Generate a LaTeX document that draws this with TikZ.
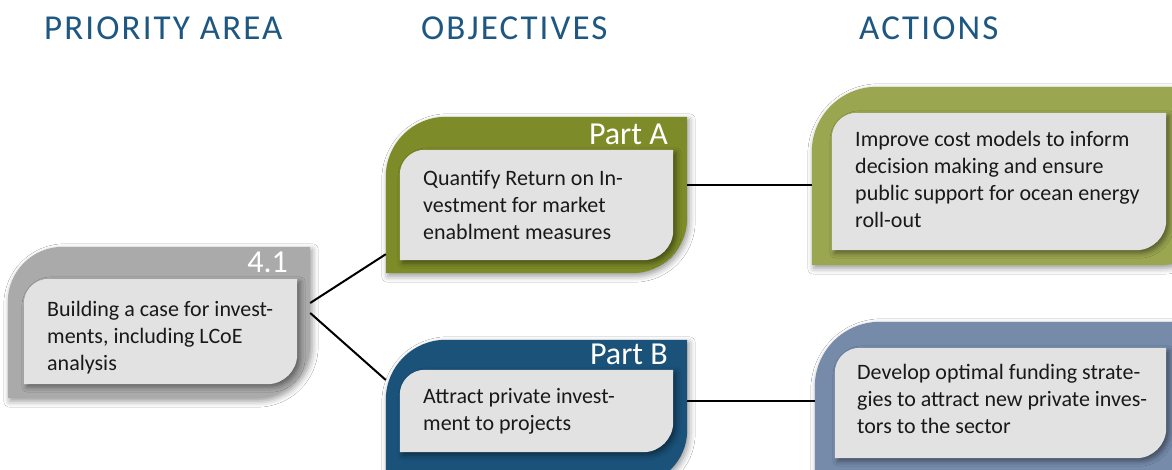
\documentclass[tikz,border=0pt]{standalone}
\usepackage{fontspec}
\setmainfont{Carlito}
\newfontfamily\headfont[LetterSpace=6]{Carlito}
\usetikzlibrary{shadows.blur,calc}
\definecolor{headblue}{RGB}{30,88,130}
\definecolor{textgray}{RGB}{25,25,25}
\definecolor{innergray}{RGB}{226,226,226}
\definecolor{prioritygray}{RGB}{170,170,170}
\definecolor{objagreen}{RGB}{125,140,40}
\definecolor{actagreen}{RGB}{155,166,80}
\definecolor{objbblue}{RGB}{26,82,122}
\definecolor{actbblue}{RGB}{118,138,170}
\tikzset{
  frame/.style={rectangle, inner sep=0pt, draw=none},
  body/.style={font=\fontsize{22}{27}\selectfont, text=textgray, align=left, inner sep=0pt, anchor=north west},
  lab/.style={font=\fontsize{32}{38}\selectfont, text=white, inner sep=0pt, anchor=base east},
  head/.style={font=\headfont\fontsize{35}{40}\selectfont, text=headblue, inner sep=0pt, anchor=base west},
  conn/.style={draw=black, line width=2pt},
  oshadow/.style={blur shadow={shadow xshift=2pt, shadow yshift=-3pt, shadow blur radius=6pt, shadow opacity=40}},
  ishadow/.style={blur shadow={shadow xshift=3pt, shadow yshift=-3pt, shadow blur radius=5pt, shadow opacity=45}},
}
\newcommand\rdfill[5]{%
  \fill[#4,#5] (#1.south west) -- ([yshift=-#2]#1.north west)
    arc[start angle=180,end angle=90,radius=#2] -- (#1.north east)
    -- ([yshift=#3]#1.south east) arc[start angle=0,end angle=-90,radius=#3] -- cycle;}
\begin{document}
\begin{tikzpicture}[x=1pt,y=1pt]
\path[use as bounding box, clip] (0,0) rectangle (1172,470);
\fill[white] (0,0) rectangle (1172,470);

% headers
\node[head] (h1) at (44,430) {PRIORITY AREA};
\node[head] (h2) at (421,430) {OBJECTIVES};
\node[head] (h3) at (859,430) {ACTIONS};

% frames
\node[frame, minimum width=302pt, minimum height=151pt] (pa) at (159,147.5) {};
\node[frame, minimum width=273pt, minimum height=105pt] (pai) at (160.5,138.5) {};
\node[frame, minimum width=301pt, minimum height=156pt] (oa) at (536.5,275) {};
\node[frame, minimum width=273pt, minimum height=110pt] (oai) at (536.5,265) {};
\node[frame, minimum width=301pt, minimum height=145pt] (ob) at (536.5,57.5) {};
\node[frame, minimum width=273pt, minimum height=82pt] (obi) at (536.5,59) {};
\node[frame, minimum width=403pt, minimum height=178pt] (aa) at (1013.5,294) {};
\node[frame, minimum width=334pt, minimum height=137pt] (aai) at (999,288.5) {};
\node[frame, minimum width=400pt, minimum height=173pt] (ab) at (1015,61.5) {};
\node[frame, minimum width=331pt, minimum height=110pt] (abi) at (1000.5,67) {};

% shapes
\rdfill{pa}{55pt}{55pt}{prioritygray}{oshadow}
\rdfill{pai}{25pt}{30pt}{innergray}{ishadow}
\rdfill{oa}{60pt}{55pt}{objagreen}{oshadow}
\rdfill{oai}{25pt}{30pt}{innergray}{ishadow}
\rdfill{ob}{60pt}{55pt}{objbblue}{oshadow}
\rdfill{obi}{25pt}{30pt}{innergray}{ishadow}
\rdfill{aa}{65pt}{55pt}{actagreen}{oshadow}
\rdfill{aai}{25pt}{30pt}{innergray}{ishadow}
\rdfill{ab}{65pt}{55pt}{actbblue}{oshadow}
\rdfill{abi}{25pt}{30pt}{innergray}{ishadow}

% labels
\node[lab] (l41) at (288,197) {4.1};
\node[lab] (lpa) at (668,325) {Part A};
\node[lab] (lpb) at (668,105) {Part B};

% texts
\node[body] (tpa) at (47,172.9) {\strut Building a case for invest-\\ments, including LCoE\\analysis};
\node[body] (toa) at (423,303.9) {\strut Quantify Return on In-\\vestment for market\\enablment measures};
\node[body] (tob) at (423,85.9) {\strut Attract private invest-\\ment to projects};
\node[body] (taa) at (855,342.9) {\strut Improve cost models to inform\\decision making and ensure\\public support for ocean energy\\roll-out};
\node[body] (tab) at (857,109.9) {\strut Develop optimal funding strate-\\gies to attract new private inves-\\tors to the sector};

% connectors
\coordinate (c1) at ([yshift=19.5pt]pa.east);
\coordinate (c2) at ([yshift=9.5pt]pa.east);
\draw[conn] (c1) -- ([yshift=19pt]oa.south west);
\draw[conn] (c2) -- ([yshift=32.5pt]ob.west);
\coordinate (ca) at ([yshift=10pt]oa.east);
\draw[conn] (ca) -- (ca -| aa.west);
\coordinate (cb) at ([yshift=11.5pt]ob.east);
\draw[conn] (cb) -- (cb -| ab.west);
\end{tikzpicture}
\end{document}
